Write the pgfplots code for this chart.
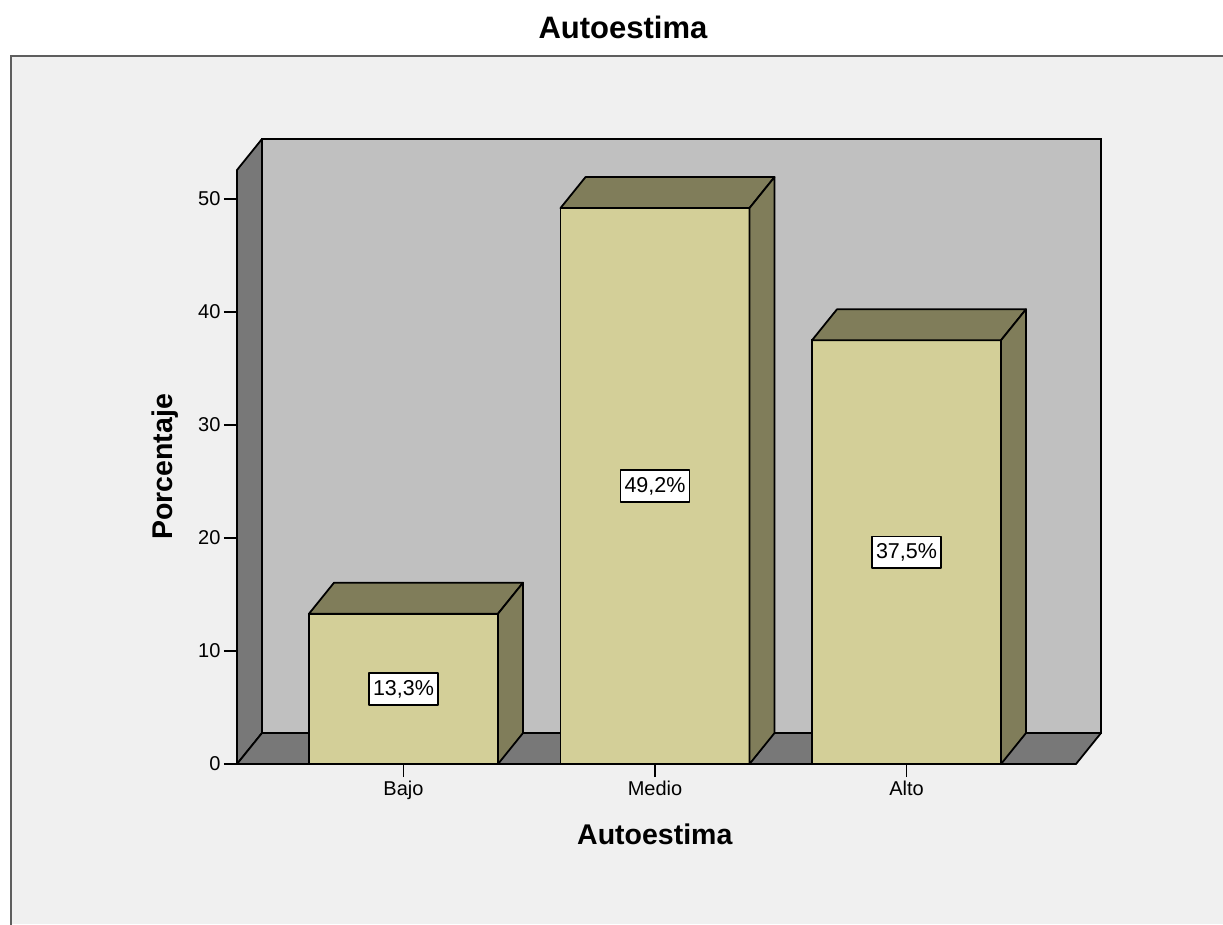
\documentclass[border=0pt]{standalone}
\usepackage{fontspec}
\setmainfont{Liberation Sans}
\usepackage{pgfplots}
\pgfplotsset{compat=1.18}
\usetikzlibrary{calc}

\definecolor{panel}{HTML}{F0F0F0}
\definecolor{wall}{HTML}{C0C0C0}
\definecolor{side}{HTML}{787878}
\definecolor{barfront}{HTML}{D3CF98}
\definecolor{barshade}{HTML}{807D5A}
\definecolor{frame}{HTML}{5E5E5E}

% top and right face of a bar; \barval is the bar's value, 1 unit = 11.3pt
\pgfdeclareplotmark{prism}{%
  \pgfmathsetmacro\h{\barval*11.3}%
  \pgfsetlinewidth{1.8pt}%
  \pgfsetroundjoin
  \pgfsetstrokecolor{black}%
  \pgfsetfillcolor{barshade}%
  \pgfpathmoveto{\pgfpoint{-94.5pt}{0pt}}%
  \pgfpathlineto{\pgfpoint{94.5pt}{0pt}}%
  \pgfpathlineto{\pgfpoint{119.5pt}{31pt}}%
  \pgfpathlineto{\pgfpoint{-69.5pt}{31pt}}%
  \pgfpathclose
  \pgfusepath{fill,stroke}%
  \pgfpathmoveto{\pgfpoint{94.5pt}{0pt}}%
  \pgfpathlineto{\pgfpoint{119.5pt}{31pt}}%
  \pgfpathlineto{\pgfpoint{119.5pt}{31pt-\h pt}}%
  \pgfpathlineto{\pgfpoint{94.5pt}{-\h pt}}%
  \pgfpathclose
  \pgfusepath{fill,stroke}%
}

\begin{document}
\begin{tikzpicture}
\useasboundingbox (0pt,0pt) rectangle (1223pt,-924pt);
\fill[white] (0pt,0pt) rectangle (1223pt,-924pt);
\fill[panel] (11pt,-56pt) rectangle (1223pt,-924pt);
\draw[frame, line width=2pt] (11pt,-930pt) -- (11pt,-56pt) -- (1230pt,-56pt);

\begin{axis}[
  at={(237pt,-764pt)}, anchor=south west,
  width=839pt, height=594pt, scale only axis,
  xmin=-0.662, xmax=2.674, ymin=0, ymax=52.57,
  clip=false,
  axis x line*=bottom, axis y line*=left,
  axis line style={black, line width=1.8pt},
  xtick={0,1,2}, xticklabels={Bajo,Medio,Alto},
  ytick={0,10,20,30,40,50},
  tick align=outside,
  major tick length=13pt,
  tick style={black, line width=1.6pt},
  /pgf/number format/assume math mode=true,
  ticklabel style={font=\fontsize{20}{24}\selectfont},
  title={Autoestima},
  title style={font=\bfseries\fontsize{31}{36}\selectfont,
    at={(axis description cs:0.46,1.2306)}, anchor=center},
  xlabel={Autoestima},
  xlabel style={font=\bfseries\fontsize{28.5}{34}\selectfont,
    at={(axis description cs:0.498,-0.1178)}, anchor=center},
  ylabel={Porcentaje},
  ylabel style={font=\bfseries\fontsize{28.5}{34}\selectfont,
    at={(axis description cs:-0.0858,0.5)}, anchor=center},
]
% back wall, left wall and floor of the 3D box
\draw[fill=wall, line width=1.8pt] ($(axis cs:-0.662,0)+(25pt,31pt)$) rectangle ($(axis cs:2.674,52.57)+(25pt,31pt)$);
\draw[fill=side, line width=1.8pt, line join=round] (axis cs:-0.662,0) -- (axis cs:-0.662,52.57) -- ++(25pt,31pt) -- ($(axis cs:-0.662,0)+(25pt,31pt)$) -- cycle;
\draw[fill=side, line width=1.8pt, line join=round] (axis cs:-0.662,0) -- (axis cs:2.674,0) -- ++(25pt,31pt) -- ($(axis cs:-0.662,0)+(25pt,31pt)$) -- cycle;

\addplot[ybar, bar width=189pt, fill=barfront, draw=black, line width=1.8pt]
  coordinates {(0,13.3) (1,49.2) (2,37.5)};

\addplot[only marks, mark=prism,
  visualization depends on={rawy \as \barval},
  nodes near coords={\pgfmathprintnumber[fixed, fixed zerofill, precision=1, use comma]{\pgfplotspointmeta}\%},
  every node near coord/.append style={anchor=center, fill=white, draw=black,
    line width=1.5pt, inner xsep=4pt, inner ysep=7pt, text=black,
    font=\fontsize{21.5}{26}\selectfont, yshift=-\barval*5.65pt}]
  coordinates {(0,13.3) (1,49.2) (2,37.5)};
\end{axis}
\end{tikzpicture}
\end{document}
